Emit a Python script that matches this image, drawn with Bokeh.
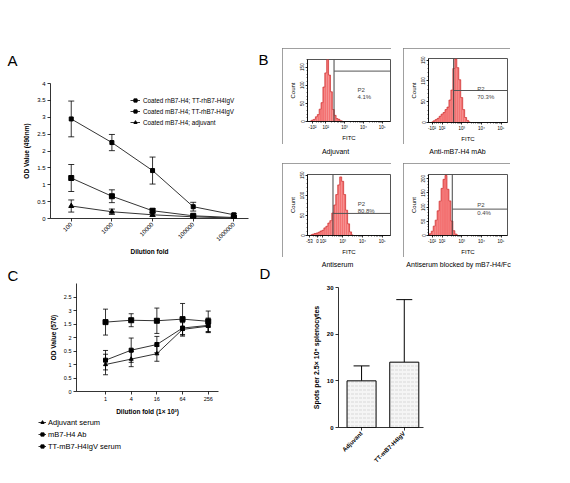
import math
from bokeh.plotting import figure
from bokeh.layouts import row, column
from bokeh.models import (Range1d, FixedTicker, Whisker, TeeHead, ColumnDataSource,
                          Legend, LegendItem, Label, Spacer)
from bokeh.embed import file_html
from bokeh.resources import INLINE

FONT = "Liberation Sans"
NAN = float("nan")

# ---------------- data: panel A ----------------
A_dilutions = ["100", "1000", "10000", "100000", "1000000"]
A_names = ["Coated rhB7-H4; TT-rhB7-H4IgV", "Coated mB7-H4; TT-rhB7-H4IgV", "Coated mB7-H4; adjuvant"]
A_rh_tt = [2.95, 2.25, 1.42, 0.35, 0.11]
A_rh_tt_err = [0.53, 0.24, 0.40, 0.13, 0.04]
A_m_tt = [1.20, 0.66, 0.23, 0.08, 0.03]
A_m_tt_err = [0.40, 0.19, 0.06, 0.03, 0.02]
A_m_adj = [0.37, 0.20, 0.11, 0.05, 0.01]
A_m_adj_err = [0.18, 0.08, 0.05, 0.02, 0.01]
A_yticks = [0, 0.5, 1, 1.5, 2, 2.5, 3, 3.5, 4]

# ---------------- data: panel B ----------------
B_titles = ["Adjuvant", "Anti-mB7-H4 mAb", "Antiserum", "Antiserum blocked by mB7-H4/Fc"]
B_pct = ["4.1%", "70.3%", "80.8%", "0.4%"]
B_bins_1 = [1.2, 1.3, 1.4, 1.5, 1.6, 1.7, 1.8, 1.9, 2.0, 2.1, 2.2, 2.3, 2.4, 2.5, 2.6, 2.7, 2.8, 2.9]
B_counts_1 = [2, 4, 6, 13, 19, 34, 52, 95, 134, 171, 128, 82, 33, 17, 8, 6, 2, 1]
B_bins_2 = [1.5, 1.6, 1.7, 1.8, 1.9, 2.0, 2.1, 2.2, 2.3, 2.4, 2.5, 2.6, 2.7, 2.8, 2.9, 3.0, 3.1, 3.2, 3.3, 3.4]
B_counts_2 = [2, 4, 7, 10, 15, 20, 24, 31, 37, 54, 78, 130, 153, 132, 103, 60, 31, 12, 5, 2]
B_bins_3 = [1.4, 1.5, 1.6, 1.7, 1.8, 1.9, 2.0, 2.1, 2.2, 2.3, 2.4, 2.5, 2.6, 2.7, 2.8, 2.9, 3.0, 3.1, 3.2, 3.3, 3.4, 3.5]
B_counts_3 = [2, 3, 5, 6, 8, 11, 13, 19, 23, 31, 37, 56, 76, 102, 126, 146, 135, 102, 63, 29, 9, 2]
B_bins_4 = [1.3, 1.4, 1.5, 1.6, 1.7, 1.8, 1.9, 2.0, 2.1, 2.2, 2.3, 2.4, 2.5, 2.6, 2.7, 2.8]
B_counts_4 = [2, 6, 15, 33, 54, 87, 121, 166, 198, 212, 163, 122, 51, 17, 5, 2]
B_gate_x = [2.44, 2.59, 2.51, 2.52]
B_gate_y = [139, 77, 55, 93]
B_xrange = [(1.03, 5.44), (1.31, 5.33), (1.22, 5.42), (1.31, 5.33)]
B_ymax = [171, 154, 152, 215]
B_xticks = [[1.3, 2, 3, 4, 5], [1.49, 2, 3, 4, 5], [1.32, 1.73, 2, 3, 4, 5], [1.49, 2, 3, 4, 5]]
B_xlabels = [["-10²", "10²", "10³", "10⁴", "10⁵"], ["-10²", "10²", "10³", "10⁴", "10⁵"],
             ["-53", "0", "10²", "10³", "10⁴", "10⁵"], ["-10²", "10²", "10³", "10⁴", "10⁵"]]
B_yticks = [[0, 50, 100, 150], [0, 50, 100, 150], [0, 50, 100, 150], [0, 50, 100, 150, 200]]
B_p2_y = [86, 80, 78, 106]
B_pct_y = [67, 62, 60, 79]
B_text_x = [3.68, 3.79, 3.76, 3.79]

# ---------------- data: panel C ----------------
C_dilutions = ["1", "4", "16", "64", "256"]
C_names = ["Adjuvant serum", "mB7-H4 Ab", "TT-mB7-H4IgV serum"]
C_adj = [1.00, 1.20, 1.40, 2.30, 2.42]
C_adj_err = [0.38, 0.28, 0.28, 0.25, 0.22]
C_ab = [2.57, 2.64, 2.62, 2.68, 2.60]
C_ab_err = [0.48, 0.24, 0.47, 0.58, 0.38]
C_tt = [1.16, 1.53, 1.74, 2.35, 2.45]
C_tt_err = [0.36, 0.45, 0.30, 0.25, 0.27]
C_markers = ["triangle", "square", "square"]
C_yticks = [0, 0.5, 1, 1.5, 2, 2.5, 3, 3.5]
C_ytick_labels = ["0", "0.5", "1", "0.5", "2", "1.5", "3", "2.5"]

# ---------------- data: panel D ----------------
D_groups = ["Adjuvant", "TT-mB7-H4IgV"]
D_spots = [10.0, 14.0]
D_spots_err = [3.2, 13.4]
D_yticks = [0, 10, 20, 30]


def base_fig(w, h, xr, yr, mb, **kw):
    p = figure(width=w, height=h, x_range=Range1d(*xr), y_range=Range1d(*yr),
               output_backend="svg", toolbar_location=None, frame_align=False,
               min_border_left=mb[0], min_border_right=mb[1],
               min_border_top=mb[2], min_border_bottom=mb[3], **kw)
    p.grid.visible = False
    p.outline_line_color = None
    p.background_fill_color = "white"
    p.border_fill_color = "white"
    return p


def text_fig(w, h, texts):
    """A plain figure (no axes) whose whole area is the frame; holds text labels."""
    p = figure(width=w, height=h, output_backend="svg", toolbar_location=None,
               x_range=Range1d(0, 1), y_range=Range1d(0, 1), frame_align=False,
               x_axis_location=None, y_axis_location=None, min_border=0)
    p.grid.visible = False
    p.outline_line_color = None
    p.background_fill_color = "white"
    p.border_fill_color = "white"
    for t in texts:
        p.add_layout(Label(x=t[1], y=t[2], x_units="screen", y_units="screen", text=t[0],
                           text_font=FONT, text_font_size=t[3], text_color="black",
                           text_align=t[4], text_baseline="middle"))
    return p


def style_axes(p, tick_size, label_size, tick_bold=False, label_bold=True, tick_out=3):
    for ax in p.axis:
        ax.axis_line_color = "black"
        ax.axis_line_width = 0.8
        ax.major_tick_line_color = "black"
        ax.major_tick_line_width = 0.8
        ax.major_tick_out = tick_out
        ax.major_tick_in = 0
        ax.minor_tick_line_color = None
        ax.major_label_text_font = FONT
        ax.major_label_text_font_size = tick_size
        ax.major_label_text_color = "black"
        ax.major_label_text_font_style = "bold" if tick_bold else "normal"
        ax.axis_label_text_font = FONT
        ax.axis_label_text_font_size = label_size
        ax.axis_label_text_font_style = "bold" if label_bold else "normal"
        ax.axis_label_text_color = "black"
        ax.major_label_standoff = 2
        ax.axis_label_standoff = 4


def add_series(p, xs, vals, errs, marker, size, cap):
    rl = p.line(xs, vals, line_color="black", line_width=0.8)
    rs = p.scatter(xs, vals, marker=marker, size=size, color="black")
    src = ColumnDataSource(dict(x=xs, up=[v + e for v, e in zip(vals, errs)],
                                lo=[v - e for v, e in zip(vals, errs)]))
    p.add_layout(Whisker(source=src, base="x", upper="up", lower="lo", line_width=0.8,
                         line_color="black",
                         upper_head=TeeHead(size=cap, line_width=0.8, line_color="black"),
                         lower_head=TeeHead(size=cap, line_width=0.8, line_color="black")))
    return [rl, rs]


# ================= Panel letters A / B =================
stripAB = text_fig(282, 68, [("A", 7, 8, "15px", "left"),
                             ("B", 258, 9, "15px", "left")])

# ================= Panel A =================
pA = base_fig(282, 189, (-0.51, 4.36), (0, 4), (50, 34, 15, 38))
ax_a = list(range(len(A_dilutions)))
itemsA = []
for name, vals, errs, mk, sz in zip(A_names, [A_rh_tt, A_m_tt, A_m_adj],
                                    [A_rh_tt_err, A_m_tt_err, A_m_adj_err],
                                    ["square", "square", "triangle"], [4, 5, 5]):
    rr = add_series(pA, ax_a, vals, errs, mk, sz, 6)
    itemsA.append(LegendItem(label=name, renderers=rr))
style_axes(pA, "6px", "6.5px")
pA.xaxis.axis_label_standoff = 2
pA.xaxis.ticker = FixedTicker(ticks=ax_a)
pA.xaxis.major_label_overrides = {i: t for i, t in enumerate(A_dilutions)}
pA.xaxis.major_label_orientation = math.pi / 4
pA.yaxis.ticker = FixedTicker(ticks=A_yticks)
pA.yaxis.major_label_overrides = {t: f"{t:g}" for t in A_yticks}
pA.xaxis.axis_label = "Dilution fold"
pA.yaxis.axis_label = "OD Value (490nm)"
legA = Legend(items=itemsA, location=(80, 92), glyph_width=10, glyph_height=8,
              label_height=8, label_standoff=3, spacing=3, padding=0, margin=0,
              border_line_color=None, background_fill_alpha=0,
              label_text_font=FONT, label_text_font_size="6.3px", label_text_color="black")
pA.add_layout(legA)


# ================= Panel B =================
BOX = {"outline": "1px solid #808080", "outline-offset": "-1px"}


def make_b(i, w, h, mb):
    p = base_fig(w, h, B_xrange[i], (0, B_ymax[i]), mb, styles=BOX)
    bins = [B_bins_1, B_bins_2, B_bins_3, B_bins_4][i]
    counts = [B_counts_1, B_counts_2, B_counts_3, B_counts_4][i]
    p.vbar(x=bins, top=counts, width=0.1, fill_color="#f37272", line_color=None)
    p.step(x=bins, y=counts, mode="center", line_color="#cc2a2a", line_width=0.7)
    gx, gy = B_gate_x[i], B_gate_y[i]
    p.segment(x0=[gx], y0=[0], x1=[gx], y1=[B_ymax[i]], line_color="#444444", line_width=1)
    p.segment(x0=[gx], y0=[gy], x1=[B_xrange[i][1]], y1=[gy], line_color="#555555", line_width=1)
    p.outline_line_color = "#555555"
    p.outline_line_width = 1
    style_axes(p, "4.5px", "6px", label_bold=False, tick_out=2)
    p.xaxis.ticker = FixedTicker(ticks=B_xticks[i],
                                 minor_ticks=[d + math.log10(k) for d in (2, 3, 4) for k in range(2, 10)]
                                 + [1.5, 1.6, 1.7, 1.8, 1.9])
    p.xaxis.major_label_overrides = {t: s for t, s in zip(B_xticks[i], B_xlabels[i])}
    p.yaxis.ticker = FixedTicker(ticks=B_yticks[i],
                                 minor_ticks=list(range(0, B_ymax[i], 10)))
    p.yaxis.major_label_orientation = "vertical"
    for ax in p.axis:
        ax.minor_tick_line_color = "black"
        ax.minor_tick_line_width = 0.6
        ax.minor_tick_out = 1
        ax.minor_tick_in = 0
        ax.major_label_standoff = 1
        ax.axis_label_standoff = 2
    p.xaxis.axis_label = "FITC"
    p.yaxis.axis_label = "Count"
    p.add_layout(Label(x=B_text_x[i], y=B_p2_y[i], text="P2", text_font=FONT,
                       text_font_size="6px", text_baseline="middle"))
    p.add_layout(Label(x=B_text_x[i], y=B_pct_y[i], text=B_pct[i], text_font=FONT,
                       text_font_size="6px", text_baseline="middle"))
    return p


b1 = make_b(0, 109, 96, (25, 1, 11, 23))
b2 = make_b(1, 107, 96, (25, 3, 10, 22))
b3 = make_b(2, 109, 94, (25, 1, 11, 20))
b4 = make_b(3, 107, 94, (25, 3, 11, 21))
cap12 = text_fig(280, 19, [(B_titles[0], 53, 12, "7px", "center"),
                           (B_titles[1], 175, 12, "7px", "center")])
panelB = column(Spacer(width=280, height=48),
                row(b1, Spacer(width=12, height=96), b2, Spacer(width=52, height=96)),
                cap12,
                row(b3, Spacer(width=12, height=94), b4, Spacer(width=52, height=94)))

# ======== strip: lower B captions and panel letters C / D ========
strip2 = text_fig(562, 26, [(B_titles[2], 337, 19.5, "7px", "center"),
                            (B_titles[3], 458, 19.5, "7px", "center"),
                            ("C", 7, 8.5, "15px", "left"),
                            ("D", 259, 10, "15px", "left")])

# ================= Panel C =================
pC = base_fig(255, 134, (-1.13, 4.4), (0, 4), (76, 37, 0, 25))
ax_c = list(range(len(C_dilutions)))
for vals, errs, mk, sz in zip([C_adj, C_ab, C_tt], [C_adj_err, C_ab_err, C_tt_err],
                              C_markers, [4, 5, 4]):
    add_series(pC, ax_c, vals, errs, mk, sz, 5)
style_axes(pC, "5.5px", "6.5px")
pC.xaxis.ticker = FixedTicker(ticks=ax_c)
pC.xaxis.major_label_overrides = {i: t for i, t in enumerate(C_dilutions)}
pC.yaxis.ticker = FixedTicker(ticks=C_yticks)
pC.yaxis.major_label_overrides = {t: s for t, s in zip(C_yticks, C_ytick_labels)}
pC.xaxis.axis_label = "Dilution fold (1× 10³)"
pC.yaxis.axis_label = "OD Value (570)"

# legend of panel C, drawn below the plot in its own axis-less figure
legfig = text_fig(255, 58, [])
itemsC = []
for name, mk, sz in zip(C_names, C_markers, [4, 5, 4]):
    rl = legfig.line([NAN, NAN], [NAN, NAN], line_color="black", line_width=0.8)
    rs = legfig.scatter([NAN], [NAN], marker=mk, size=sz, color="black")
    itemsC.append(LegendItem(label=name, renderers=[rl, rs]))
legC = Legend(items=itemsC, location=(38, 24), glyph_width=8, glyph_height=10,
              label_height=10, label_standoff=2, spacing=2, padding=0, margin=0,
              border_line_color=None, background_fill_alpha=0,
              label_text_font=FONT, label_text_font_size="7.5px", label_text_color="black")
legfig.add_layout(legC)

# ================= Panel D =================
pD = base_fig(307, 192, (0.46, 2.45), (0, 30), (83, 139, 4, 48))
ax_d = [i + 1 for i in range(len(D_groups))]
pD.vbar(x=ax_d, top=D_spots, width=0.68, fill_color="#f5f5f5", line_color="black",
        line_width=1, hatch_pattern="horizontal_dash", hatch_color="#c4c4c4",
        hatch_scale=4, hatch_weight=0.6)
srcD = ColumnDataSource(dict(x=ax_d, up=[v + e for v, e in zip(D_spots, D_spots_err)], lo=D_spots))
pD.add_layout(Whisker(source=srcD, base="x", upper="up", lower="lo", line_width=1,
                      line_color="black",
                      upper_head=TeeHead(size=16, line_width=1, line_color="black"),
                      lower_head=None))
style_axes(pD, "6px", "7px", tick_bold=True)
pD.xaxis.ticker = FixedTicker(ticks=ax_d)
pD.xaxis.major_label_overrides = {i: t for i, t in zip(ax_d, D_groups)}
pD.xaxis.major_label_orientation = math.pi / 4
pD.yaxis.ticker = FixedTicker(ticks=D_yticks)
pD.yaxis.axis_label = "Spots per 2.5× 10⁵ splenocytes"

layout = column(row(column(stripAB, pA), panelB),
                strip2,
                row(column(pC, legfig), pD))
open("out.html", "w").write(file_html(layout, INLINE))
